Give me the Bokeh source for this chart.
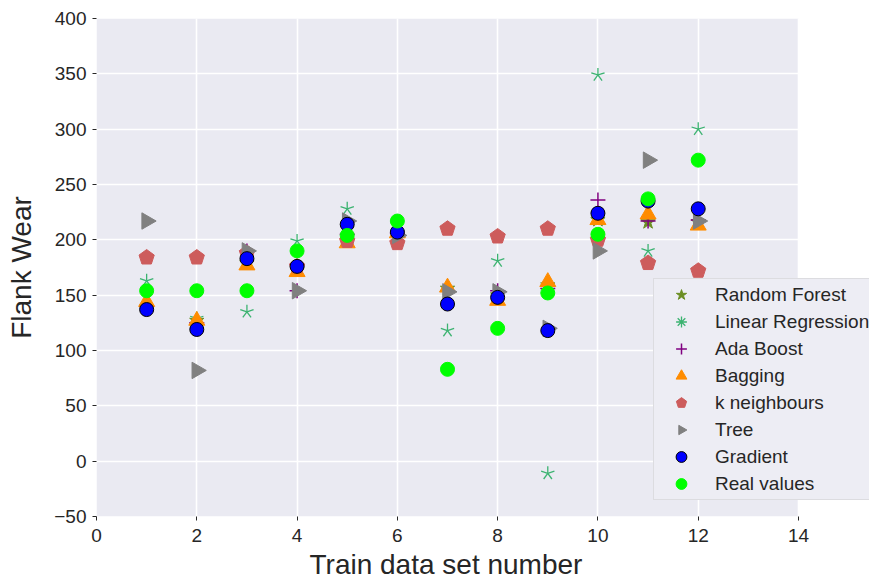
import math
from bokeh.plotting import figure
from bokeh.models import (ColumnDataSource, Legend, LegendItem, FixedTicker, Range1d,
                          BoxAnnotation, Title)
from bokeh.embed import file_html
from bokeh.resources import INLINE

# ---- data ----
train_set = [1, 2, 3, 4, 5, 6, 7, 8, 9, 10, 11, 12]
random_forest = [139, 127, 179, 173, 199, 206, 156, 150, 159, 218, 216, 216]
linear_regression = [163, 129, 135, 199, 228, 214, 118, 181, -11, 349, 190, 300]
ada_boost = [140, 125, 190, 154, 205, 206, 154, 154, 156, 236, 217, 218]
bagging = [144, 127, 177, 171, 197, 206, 157, 145, 162, 218, 223, 213]
k_neighbours = [184, 184, 188, 176, 199, 197, 210, 203, 210, 200, 179, 172]
tree = [217, 82, 190, 154, 217, 204, 153, 153, 120, 190, 272, 217]
gradient = [137, 119, 183, 176, 214, 207, 142, 148, 118, 224, 235, 228]
real_values = [154, 154, 154, 190, 204, 217, 83, 120, 152, 205, 237, 272]

x_ticks = [0, 2, 4, 6, 8, 10, 12, 14]
y_ticks = [-50, 0, 50, 100, 150, 200, 250, 300, 350, 400]
y_tick_labels = ["\u221250", "0", "50", "100", "150", "200", "250", "300", "350", "400"]

FONT = "Liberation Sans"
TXT = "#262626"
AX_BG = "#EAEAF2"

W, H = 869, 587
LEFT, TOP, BOTTOM = 96, 18, 71
AXES_W = 702                      # width of the shaded axes area
X_MIN, X_MAX = 0, 14
Y_MIN, Y_MAX = -50, 400
frame_w = W - LEFT
x_end = X_MIN + (X_MAX - X_MIN) * frame_w / AXES_W   # frame extends under the legend

src = ColumnDataSource(dict(x=train_set, rf=random_forest, lr=linear_regression,
                            ada=ada_boost, bag=bagging, knn=k_neighbours,
                            tree=tree, grad=gradient, real=real_values))

p = figure(width=W, height=H, output_backend="svg", toolbar_location=None,
           x_range=Range1d(X_MIN, x_end), y_range=Range1d(Y_MIN, Y_MAX),
           min_border_left=LEFT, min_border_right=0, min_border_top=TOP,
           min_border_bottom=BOTTOM)
p.background_fill_color = "white"
p.border_fill_color = "white"
p.outline_line_color = None

p.add_layout(BoxAnnotation(left=X_MIN, right=X_MAX, bottom=Y_MIN, top=Y_MAX,
                           fill_color=AX_BG, fill_alpha=1.0, line_color=None,
                           level="image"))
p.grid.grid_line_color = "white"
p.grid.grid_line_width = 1.6
p.ygrid.bounds = (X_MIN, X_MAX)

p.xaxis.ticker = FixedTicker(ticks=x_ticks)
p.yaxis.ticker = FixedTicker(ticks=y_ticks)
p.xgrid.ticker = FixedTicker(ticks=x_ticks)
p.ygrid.ticker = FixedTicker(ticks=y_ticks)
p.yaxis.major_label_overrides = {t: l for t, l in zip(y_ticks, y_tick_labels)}
for ax in (p.xaxis, p.yaxis):
    ax.axis_line_color = None
    ax.major_tick_line_color = TXT
    ax.major_tick_in = 0
    ax.major_tick_out = 4
    ax.minor_tick_line_color = None
    ax.major_label_text_font = FONT
    ax.major_label_text_font_size = "19px"
    ax.major_label_text_color = TXT
    ax.axis_label_text_font = FONT
    ax.axis_label_text_font_size = "28px"
    ax.axis_label_text_font_style = "normal"
    ax.axis_label_text_color = TXT
p.yaxis.axis_label = "Flank Wear"
p.xaxis.major_label_standoff = 8
p.yaxis.major_label_standoff = 6
p.yaxis.axis_label_standoff = 14

# x axis label, centred under the shaded axes area
xlabel = Title(text="Train data set number", align="left", offset=213,
               text_font=FONT, text_font_size="28px", text_font_style="normal",
               text_color=TXT, standoff=5)
p.add_layout(xlabel, "below")

# Random Forest
r_rf = p.scatter("x", "rf", source=src, marker="star", size=15,
                 fill_color="#6B8E23", line_color="#6B8E23")
# Linear Regression: 5-arm asterisk from rays
for k in range(5):
    p.ray("x", "lr", source=src, length=7, length_units="screen",
          angle=math.pi / 2 + k * 2 * math.pi / 5, line_color="#3CB371", line_width=1.3)
r_lr = p.scatter("x", "lr", source=src, marker="asterisk", size=14,
                 line_color="#3CB371", line_width=1.3, visible=False)
# Ada Boost
r_ada = p.scatter("x", "ada", source=src, marker="cross", size=15,
                  line_color="#800080", line_width=1.5)
# Bagging
r_bag = p.scatter("x", "bag", source=src, marker="triangle", size=16,
                  fill_color="#FF8C00", line_color="#FF8C00")
# k neighbours (pentagon, point up)
r_knn = p.ngon("x", "knn", source=src, radius=8, radius_units="screen", n=5,
               angle=0, fill_color="#CD5C5C", line_color="#CD5C5C")
# Tree (right-pointing triangle)
r_tree = p.ngon("x", "tree", source=src, radius=9.5, radius_units="screen", n=3,
                angle=-math.pi / 2, fill_color="#808080", line_color="#808080")
# Gradient
r_grad = p.scatter("x", "grad", source=src, marker="circle", size=14,
                   fill_color="#0000FF", line_color="black", line_width=1)
# Real values
r_real = p.scatter("x", "real", source=src, marker="circle", size=14,
                   fill_color="#00FF00", line_color="#00FF00")

legend = Legend(items=[
    LegendItem(label="Random Forest", renderers=[r_rf]),
    LegendItem(label="Linear Regression", renderers=[r_lr]),
    LegendItem(label="Ada Boost", renderers=[r_ada]),
    LegendItem(label="Bagging", renderers=[r_bag]),
    LegendItem(label="k neighbours", renderers=[r_knn]),
    LegendItem(label="Tree", renderers=[r_tree]),
    LegendItem(label="Gradient", renderers=[r_grad]),
    LegendItem(label="Real values", renderers=[r_real]),
], location=(557, 16))
legend.label_text_font = FONT
legend.label_text_font_size = "19px"
legend.label_text_color = TXT
legend.padding = 2
legend.margin = 0
legend.spacing = 0
legend.glyph_width = 50
legend.glyph_height = 27
legend.label_height = 27
legend.label_standoff = 9
legend.background_fill_color = "#EDEDF4"
legend.background_fill_alpha = 1.0
legend.border_line_color = "#CCCCCC"
legend.border_line_width = 1
p.add_layout(legend, "center")

open("out.html", "w").write(file_html(p, INLINE))
